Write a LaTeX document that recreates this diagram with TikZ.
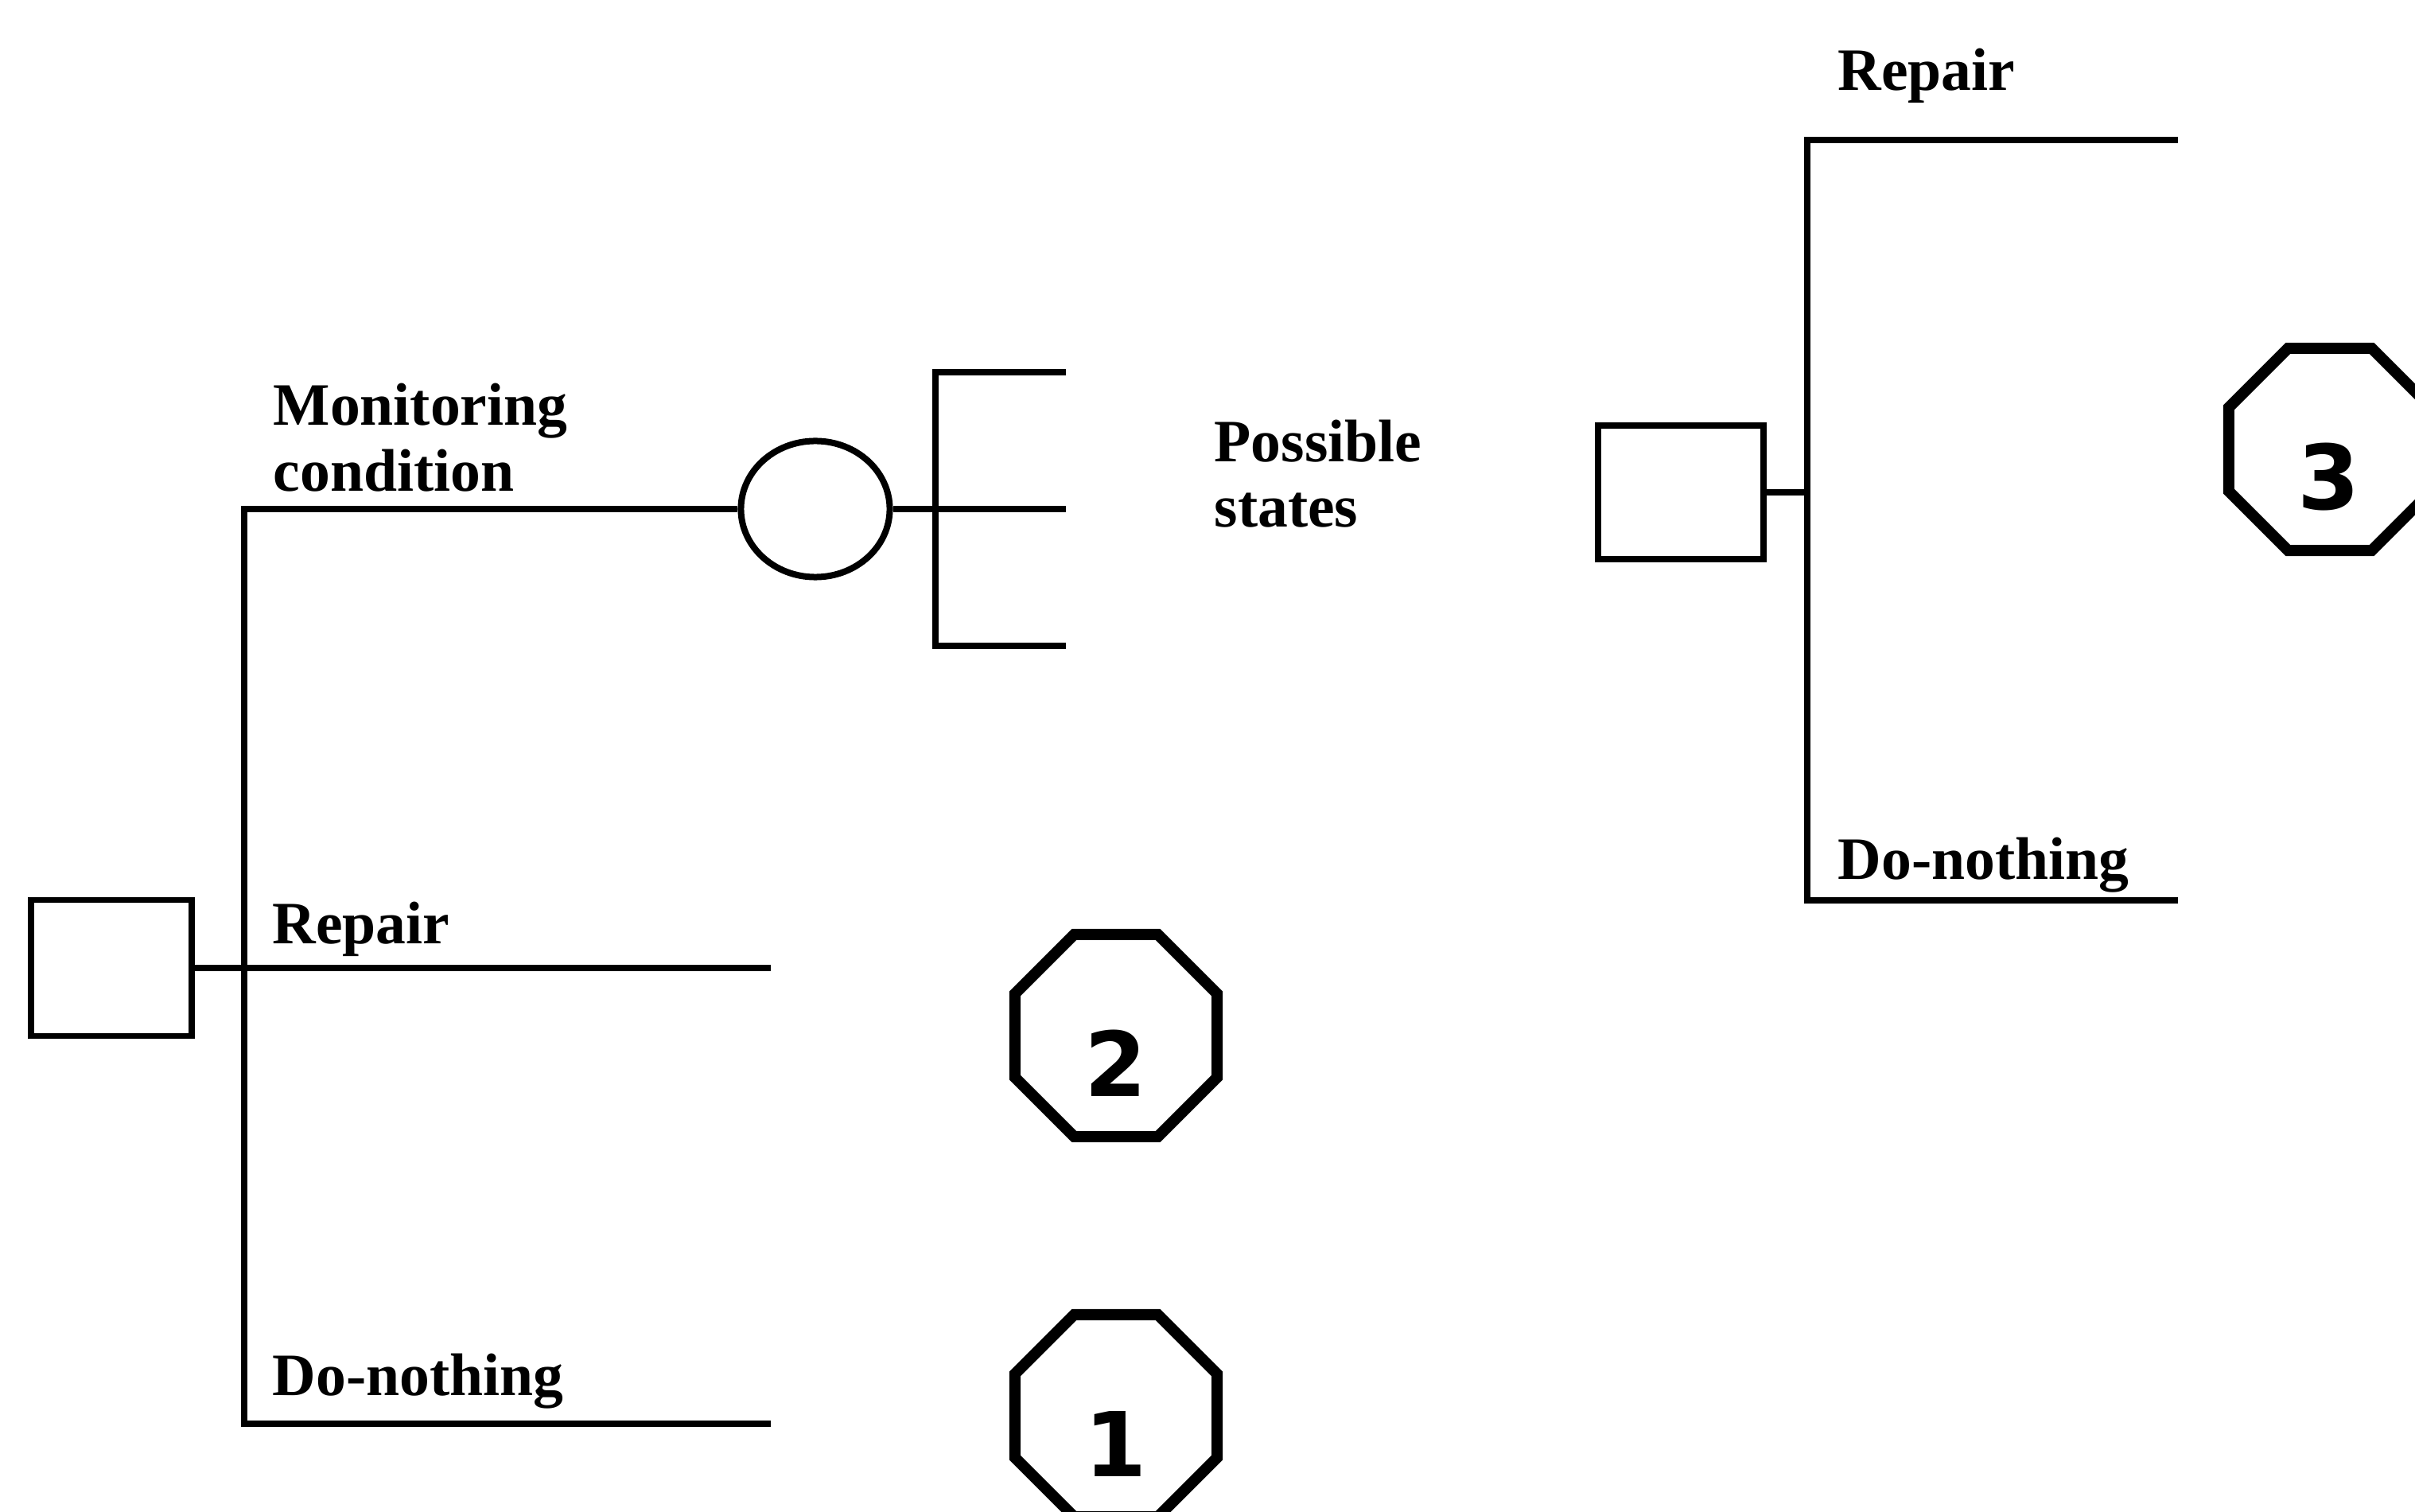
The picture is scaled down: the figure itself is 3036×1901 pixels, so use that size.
\documentclass[tikz,border=0pt]{standalone}
\usepackage{fontspec}
\setmainfont{Liberation Serif}
\newfontfamily\digitfont{DejaVu Sans}
\usetikzlibrary{shapes.geometric}
\tikzset{
  branch/.style={line width=0.075cm},
  decbox/.style={draw, line width=0.075cm, rectangle, inner sep=0pt},
  chance/.style={draw, line width=0.08cm, ellipse, inner sep=0pt, minimum width=1.87cm, minimum height=1.71cm},
  octa/.style={draw, line width=0.14cm, regular polygon, regular polygon sides=8, inner sep=0pt, minimum size=2.75cm},
  lbl/.style={anchor=base west, inner sep=0pt, font=\bfseries\fontsize{21.5}{25}\selectfont},
  num/.style={anchor=center, inner sep=0pt, font=\digitfont\bfseries\fontsize{32}{36}\selectfont},
}
\begin{document}
\begin{tikzpicture}[x=0.01cm,y=-0.01cm]
\useasboundingbox (0,0) rectangle (3036,1901);
\fill[white] (0,0) rectangle (3036,1901);
\clip (0,0) rectangle (3036,1901);

% left decision box and its branches
\node[decbox, minimum width=2.02cm, minimum height=1.71cm] (lbox) at (140,1217) {};
\coordinate (ltop) at (307,640);
\coordinate (lbot) at (307,1790);
\coordinate (repEnd) at (969,1217);
\coordinate (dnEnd) at (969,1790);
\node[chance] (circ) at (1025,640) {};
\draw[branch] (lbox.east) -- (repEnd);
\draw[branch] (circ.west) -- (ltop) -- (lbot) -- (dnEnd);

% possible states bracket
\coordinate (btop) at (1176,468);
\coordinate (bmid) at (1176,640);
\coordinate (bbot) at (1176,812);
\coordinate (e1) at (1340,468);
\coordinate (e2) at (1340,640);
\coordinate (e3) at (1340,812);
\draw[branch] (e1) -- (btop) -- (bbot) -- (e3);
\draw[branch] (circ.east) -- (e2);

% right decision box and its branches
\node[decbox, minimum width=2.08cm, minimum height=1.68cm] (rbox) at (2113,619) {};
\coordinate (rtop) at (2272,176);
\coordinate (rbot) at (2272,1132);
\coordinate (rtopEnd) at (2738,176);
\coordinate (rbotEnd) at (2738,1132);
\draw[branch] (rtopEnd) -- (rtop) -- (rbot) -- (rbotEnd);
\draw[branch] (rbox.east) -- (rbox.east -| rtop);

% labels
\node[lbl] (mon1) at (343,535) {Monitoring};
\node[lbl] (mon2) at (343,618) {condition};
\node[lbl] (lrep) at (342,1186) {Repair};
\node[lbl] (ldn) at (342,1754) {Do-nothing};
\node[lbl] (pos1) at (1526,581) {Possible};
\node[lbl] (pos2) at (1526,663) {states};
\node[lbl] (rrep) at (2310,114) {Repair};
\node[lbl] (rdn) at (2310,1106) {Do-nothing};

% outcome octagons
\node[octa] (o2) at (1403,1302) {};
\node[num] (n2) at (1403,1337) {2};
\node[octa] (o1) at (1403,1780) {};
\node[num] (n1) at (1403,1815) {1};
\node[octa] (o3) at (2929,565) {};
\node[num] (n3) at (2928,600) {3};
\end{tikzpicture}
\end{document}
